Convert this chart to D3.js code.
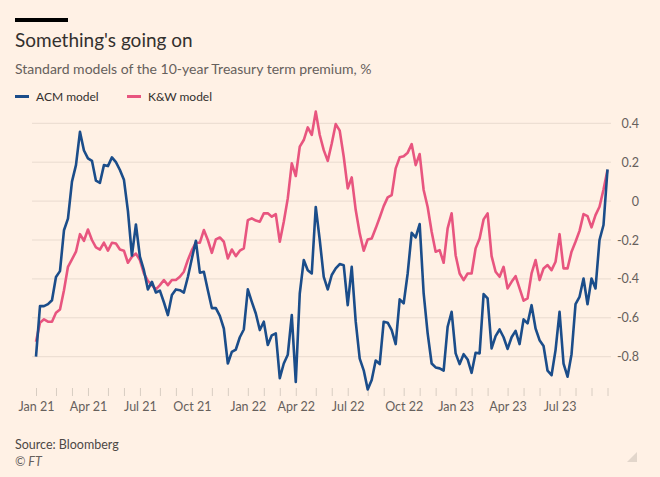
<!DOCTYPE html>
<html>
<head>
<meta charset="utf-8">
<script src="https://cdn.jsdelivr.net/npm/d3@7"></script>
<style>
html,body{margin:0;padding:0;background:#fff1e5;}
svg{display:block;}
text{font-family:Lato,"Noto Sans",sans-serif;}
</style>
</head>
<body>
<svg id="chart" width="660" height="477"></svg>
<script>
// ---- data (weekly, Fridays from 1 Jan 2021) ----
const startDate = "2021-01-01";
const acm = [
-0.80,-0.54,-0.54,-0.53,-0.51,-0.39,-0.36,-0.15,-0.09,0.10,
0.185,0.356,0.26,0.22,0.207,0.105,0.094,0.185,0.18,0.225,
0.20,0.16,0.11,-0.05,-0.28,-0.12,-0.286,-0.355,-0.454,-0.415,
-0.47,-0.46,-0.52,-0.586,-0.483,-0.454,-0.458,-0.47,-0.39,-0.295,
-0.204,-0.368,-0.363,-0.458,-0.55,-0.55,-0.59,-0.655,-0.835,-0.775,
-0.763,-0.70,-0.66,-0.454,-0.518,-0.578,-0.663,-0.62,-0.74,-0.69,
-0.68,-0.91,-0.835,-0.79,-0.586,-0.93,-0.475,-0.303,-0.355,-0.372,
-0.03,-0.20,-0.39,-0.454,-0.38,-0.346,-0.324,-0.33,-0.535,-0.338,
-0.62,-0.81,-0.87,-0.968,-0.92,-0.82,-0.838,-0.62,-0.625,-0.663,
-0.735,-0.505,-0.526,-0.372,-0.163,-0.187,-0.118,-0.475,-0.68,-0.835,
-0.855,-0.86,-0.872,-0.646,-0.569,-0.783,-0.838,-0.787,-0.814,-0.883,
-0.78,-0.783,-0.478,-0.50,-0.757,-0.694,-0.66,-0.70,-0.76,-0.70,
-0.667,-0.735,-0.608,-0.629,-0.535,-0.655,-0.715,-0.745,-0.872,-0.895,
-0.766,-0.569,-0.835,-0.903,-0.787,-0.53,-0.492,-0.398,-0.53,-0.398,
-0.449,-0.20,-0.123,0.163
];
const kw = [
-0.723,-0.625,-0.608,-0.62,-0.62,-0.574,-0.557,-0.458,-0.338,-0.30,
-0.26,-0.17,-0.204,-0.146,-0.20,-0.238,-0.249,-0.214,-0.255,-0.214,
-0.218,-0.249,-0.255,-0.317,-0.286,-0.27,-0.303,-0.372,-0.41,-0.432,
-0.454,-0.432,-0.406,-0.432,-0.406,-0.406,-0.389,-0.363,-0.303,-0.252,
-0.214,-0.214,-0.149,-0.20,-0.266,-0.197,-0.187,-0.209,-0.295,-0.249,
-0.283,-0.255,-0.243,-0.098,-0.089,-0.10,-0.106,-0.063,-0.063,-0.08,
-0.067,-0.209,-0.106,0.014,0.194,0.129,0.28,0.314,0.379,0.34,
0.46,0.34,0.262,0.207,0.296,0.396,0.362,0.228,0.065,0.122,
-0.046,-0.166,-0.255,-0.197,-0.192,-0.14,-0.084,-0.026,0.019,0.031,
0.168,0.225,0.231,0.249,0.293,0.185,0.242,0.057,-0.03,-0.158,
-0.26,-0.252,-0.317,-0.14,-0.063,-0.278,-0.372,-0.406,-0.372,-0.372,
-0.243,-0.192,-0.094,-0.063,-0.283,-0.363,-0.389,-0.338,-0.449,-0.415,
-0.386,-0.449,-0.512,-0.50,-0.372,-0.303,-0.406,-0.346,-0.329,-0.355,
-0.312,-0.17,-0.346,-0.346,-0.26,-0.209,-0.153,-0.067,-0.077,-0.135,
-0.072,-0.029,0.06,0.16
];
const seriesNames = ["ACM model","K&W model"];
const yTicks = [0.4,0.2,0,-0.2,-0.4,-0.6,-0.8];
const xTickLabels = ["Jan 21","Apr 21","Jul 21","Oct 21","Jan 22","Apr 22","Jul 22","Oct 22","Jan 23","Apr 23","Jul 23"];

// ---- build dates ----
const d0 = d3.timeParse("%Y-%m-%d")(startDate);
const dates = acm.map((_, i) => d3.timeWeek.offset(d0, i));
const fmt = d3.timeFormat("%b %y");

const colors = {acm:"#1b4d8a", kw:"#e8557f"};
const svg = d3.select("#chart");

svg.append("rect").attr("width",660).attr("height",477).attr("fill","#fff1e5");
svg.append("rect").attr("x",15).attr("y",18).attr("width",53).attr("height",4).attr("fill","#000");

svg.append("text").attr("x",15).attr("y",47).attr("font-size",19).attr("fill","#33302e").text("Something's going on");
svg.append("text").attr("x",15).attr("y",74).attr("font-size",14).attr("fill","#66605c")
  .text("Standard models of the 10-year Treasury term premium, %");

// legend
const leg = [{n:seriesNames[0],c:colors.acm,x:15},{n:seriesNames[1],c:colors.kw,x:127}];
leg.forEach(l=>{
  svg.append("line").attr("x1",l.x).attr("x2",l.x+14).attr("y1",96.5).attr("y2",96.5)
    .attr("stroke",l.c).attr("stroke-width",3);
  svg.append("text").attr("x",l.x+21).attr("y",101).attr("font-size",12).attr("fill","#33302e").text(l.n);
});

// scales
const x = d3.scaleLinear().domain([0, acm.length-1]).range([36, 607.5]);
const y = d3.scaleLinear().domain([-0.8, 0.4]).range([356.7, 123.3]);

// grid
const grid = svg.append("g");
grid.selectAll("line").data(yTicks).join("line")
  .attr("x1",32).attr("x2",611)
  .attr("y1",d=>y(d)).attr("y2",d=>y(d))
  .attr("stroke","#e9dbcf").attr("stroke-width",1);

// y axis labels (right)
const yAxis = d3.axisRight(y).tickValues(yTicks).tickSize(0).tickPadding(0)
  .tickFormat(d=> d===0 ? "0" : d3.format(".1f")(d).replace("−","-"));
const ya = svg.append("g").attr("transform","translate(639,0)").call(yAxis);
ya.select(".domain").remove();
ya.selectAll("text").attr("text-anchor","end").attr("font-size",12.5).attr("fill","#66605c")
  .attr("font-family","Lato,'Noto Sans',sans-serif");

// x ticks: first week of each month + end
const tickIdx = [];
dates.forEach((d,i)=>{ if(i===0 || d.getMonth()!==dates[i-1].getMonth()) tickIdx.push(i); });
if (tickIdx[tickIdx.length-1] !== dates.length-1) tickIdx.push(dates.length-1);
const labelSet = new Set(xTickLabels);
const xAxis = d3.axisBottom(x).tickValues(tickIdx).tickSize(8).tickPadding(6)
  .tickFormat(i => { const s = fmt(dates[i]); return (labelSet.has(s) && (i===0 || dates[i].getMonth()!==dates[i-1].getMonth())) ? s : ""; });
const xa = svg.append("g").attr("transform","translate(0,388)").call(xAxis);
xa.select(".domain").remove();
xa.selectAll(".tick line").attr("stroke","#d8cdc2");
xa.selectAll("text").attr("font-size",12.5).attr("fill","#66605c")
  .attr("font-family","Lato,'Noto Sans',sans-serif");

// lines
const line = d3.line().x((d,i)=>x(i)).y(d=>y(d));
svg.append("path").datum(kw).attr("d",line).attr("fill","none")
  .attr("stroke",colors.kw).attr("stroke-width",2.6).attr("stroke-linejoin","round");
svg.append("path").datum(acm).attr("d",line).attr("fill","none")
  .attr("stroke",colors.acm).attr("stroke-width",2.6).attr("stroke-linejoin","round");

// source
svg.append("text").attr("x",15).attr("y",449).attr("font-size",12.5).attr("fill","#4d4845").text("Source: Bloomberg");
svg.append("text").attr("x",15).attr("y",466).attr("font-size",12.5).attr("font-style","italic").attr("fill","#66605c").text("© FT");

// resize corner mark
svg.append("path").attr("d","M637,452 L637,462 L627,462 Z").attr("fill","#e2d6cb");
</script>
</body>
</html>
